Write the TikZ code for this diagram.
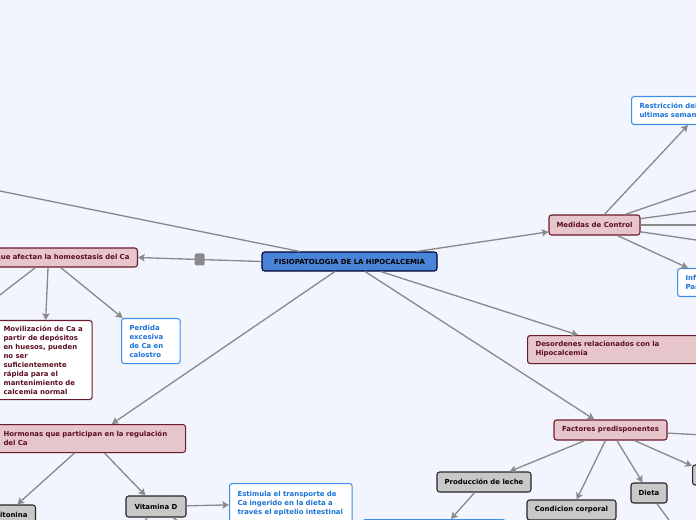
\documentclass[tikz,border=0pt]{standalone}
\usepackage{fontspec}
\setmainfont{DejaVu Sans}
\usetikzlibrary{arrows.meta}
\definecolor{fondo}{HTML}{F2F5FD}
\definecolor{rosa}{HTML}{E6C6CA}
\definecolor{vino}{HTML}{6B1A2A}
\definecolor{vinotxt}{HTML}{5A0E1E}
\definecolor{azul}{HTML}{3D8FE8}
\definecolor{azultxt}{HTML}{1A72D8}
\definecolor{central}{HTML}{4A84D8}
\definecolor{gris}{HTML}{C8C8C8}
\definecolor{linea}{HTML}{8A8A8A}
\tikzset{
  caja/.style={rounded corners=2pt,line width=0.8pt,inner ysep=0pt,font=\fontsize{5.2}{6.75}\selectfont\bfseries},
  raiz/.style={caja,fill=central,draw=black!80!blue,text=black,minimum width=131.25pt,minimum height=14.25pt},
  tema/.style={caja,fill=rosa,draw=vino,text=vinotxt},
  nota/.style={caja,fill=white,draw=azul,text=azultxt},
  hoja/.style={caja,fill=gris,draw=black!85,text=black,minimum height=15pt},
  rama/.style={draw=linea,line width=1pt},
  flecha/.style={rama,-{Stealth[length=5pt,width=5.5pt,inset=1pt]}},
  marca/.style={fill=linea,rounded corners=1pt,minimum width=7.5pt,minimum height=9pt,inner sep=0pt}
}

\begin{document}
\begin{tikzpicture}[x=0.75pt,y=-0.75pt]
\useasboundingbox (0,0) rectangle (696,520);
\clip (0,0) rectangle (696,520);
\fill[fondo] (0,0) rectangle (696,520);

\node[raiz] (fisio) at (349.5,261.5) {FISIOPATOLOGIA DE LA HIPOCALCEMIA};

\node[tema,anchor=east,minimum height=14.25pt,text width=121.5pt,align=right,inner xsep=6pt] (homeo) at (138,257.5) {que afectan la homeostasis del Ca};
\node[tema,fill=white,anchor=north west,text width=60.5pt,align=left,inner xsep=6pt,minimum height=59.25pt] (movil) at (-5,320) {Movilización de Ca a\\partir de depósitos\\en huesos, pueden\\no ser\\suficientemente\\rápida para el\\mantenimiento de\\calcemia normal};
\node[nota,anchor=north west,text width=32pt,align=left,inner xsep=6pt,minimum height=33.75pt] (perdida) at (121,318) {Perdida\\excesiva\\de Ca en\\calostro};

\node[tema,anchor=north west,text width=130.5pt,align=left,inner xsep=6pt,minimum height=21pt] (hormonas) at (-5,424) {Hormonas que participan en la regulación\\del Ca};
\node[hoja,anchor=east,inner xsep=6pt] (calci) at (36,515) {Calcitonina};
\node[hoja,minimum width=45pt,minimum height=15.75pt] (vitd) at (156,506.5) {Vitamina D};
\node[nota,anchor=north west,text width=80pt,align=left,inner xsep=6pt,minimum height=30pt] (estimula) at (229,483) {Estimula el transporte de\\Ca ingerido en la dieta a\\través el epitelio intestinal};

\node[tema,minimum width=68.25pt,minimum height=15pt] (medidas) at (594.5,225) {Medidas de Control};
\node[nota,anchor=north west,text width=100pt,align=left,inner xsep=6pt,minimum height=21pt] (restr) at (631,96) {Restricción del\\ultimas semanas};
\node[nota,anchor=north west,text width=60pt,align=left,inner xsep=6pt,minimum height=21pt] (info) at (677,268) {Infusión\\Parenteral};

\node[tema,anchor=north west,text width=150pt,align=left,inner xsep=6pt,minimum height=21pt] (deso) at (527,335) {Desordenes relacionados con la\\Hipocalcemia};

\node[tema,minimum width=84.75pt,minimum height=15pt] (factores) at (610.5,430) {Factores predisponentes};
\node[hoja,minimum width=70.5pt] (leche) at (484,482) {Producción de leche};
\node[hoja,minimum width=66.75pt] (condicion) at (571.5,510) {Condicion corporal};
\node[hoja,minimum width=27pt] (dieta) at (649,493) {Dieta};
\node[hoja,anchor=west,minimum width=30pt] (otro) at (692,475) {};
\node[nota,anchor=north west,minimum width=107.25pt,minimum height=22.5pt] (abajo) at (362,519) {};

\coordinate (tl) at (-30,185);
\coordinate (izq) at (-30,318);
\coordinate (vd1) at (130,540);
\coordinate (vd2) at (207,540);
\coordinate (md1) at (740,175);
\coordinate (md2) at (740,205);
\coordinate (md3) at (740,225);
\coordinate (md4) at (740,246.5);
\coordinate (fd1) at (740,437);
\coordinate (dd1) at (680,535);

\draw[rama] (tl) -- (fisio);
\draw[flecha] (fisio.west) -- (homeo.east) node[marca,pos=0.5] (pliegue) {};
\draw[rama] (homeo) -- (izq);
\draw[flecha] (homeo) -- (movil);
\draw[flecha] (homeo) -- (perdida);
\draw[flecha] (fisio) -- (hormonas);
\draw[flecha] (hormonas) -- (calci);
\draw[flecha] (hormonas) -- (vitd);
\draw[flecha] (vitd) -- (estimula);
\draw[rama] (vitd) -- (vd1);
\draw[rama] (vitd) -- (vd2);
\draw[flecha] (fisio) -- (medidas);
\draw[flecha] (medidas) -- ([xshift=42.75pt]restr.south west);
\draw[rama] (medidas) -- (md1);
\draw[rama] (medidas) -- (md2);
\draw[rama] (medidas) -- (md3);
\draw[rama] (medidas) -- (md4);
\draw[flecha] (medidas) -- ([xshift=8.25pt]info.north west);
\draw[flecha] (fisio) -- ([xshift=38.25pt]deso.north west);
\draw[flecha] (fisio) -- (factores);
\draw[rama] (factores) -- (fd1);
\draw[flecha] (factores) -- (leche);
\draw[flecha] (factores) -- (condicion);
\draw[flecha] (factores) -- (dieta);
\draw[flecha] (factores) -- (otro);
\draw[rama] (dieta) -- (dd1);
\draw[flecha] (leche) -- ([xshift=66.75pt]abajo.north west);
\end{tikzpicture}
\end{document}
